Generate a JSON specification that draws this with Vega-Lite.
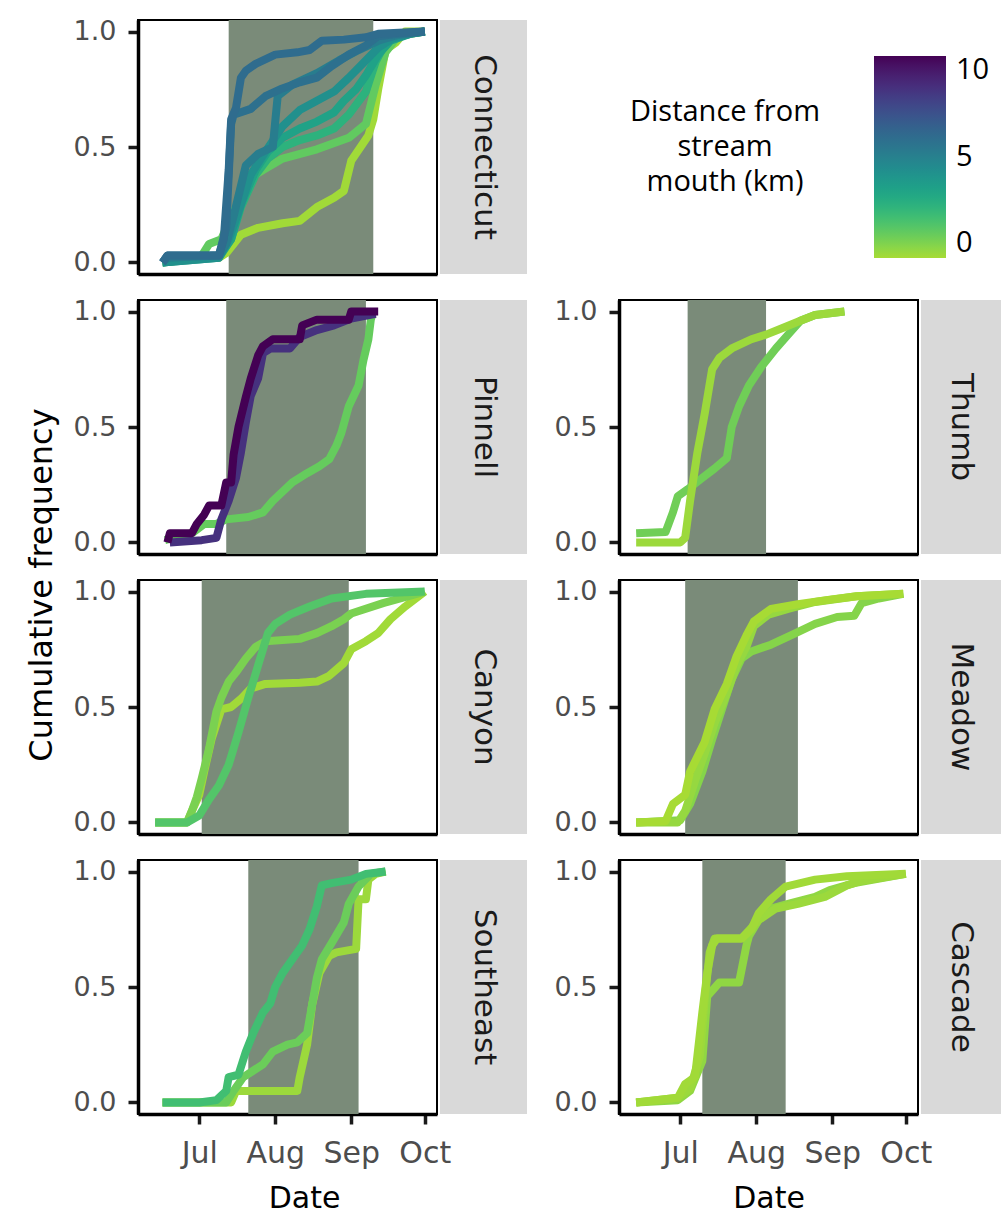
{
"$schema": "https://vega.github.io/schema/vega-lite/v6.json",
"background": "white",
"padding": {"left": 26, "top": 16, "right": 0, "bottom": 0},
"config": {
  "font": "DejaVu Sans",
  "view": {"stroke": "black", "strokeWidth": 2},
  "axis": {"grid": false, "domainColor": "black", "domainWidth": 3.5, "tickColor": "#1a1a1a", "tickWidth": 3.5, "tickSize": 10, "labelColor": "#4d4d4d", "labelFont": "DejaVu Sans", "titleFont": "DejaVu Sans", "titleFontWeight": "normal", "titleColor": "black", "titleFontSize": 30},
  "axisY": {"labelFontSize": 27, "labelPadding": 12},
  "axisX": {"labelFontSize": 30, "labelPadding": 14, "titlePadding": 15}
},
"datasets": {
  "shade": [
    {"s": "Connecticut", "a": "2018-07-13", "b": "2018-09-10"},
    {"s": "Pinnell", "a": "2018-07-12", "b": "2018-09-07"},
    {"s": "Canyon", "a": "2018-07-02", "b": "2018-08-31"},
    {"s": "Southeast", "a": "2018-07-21", "b": "2018-09-04"},
    {"s": "Thumb", "a": "2018-07-04", "b": "2018-08-05"},
    {"s": "Meadow", "a": "2018-07-03", "b": "2018-08-18"},
    {"s": "Cascade", "a": "2018-07-10", "b": "2018-08-13"}
  ],
  "lines": [
    {"s":"Connecticut","id":"C8","d":0.1,"t":"2018-06-16","v":0},
    {"s":"Connecticut","id":"C8","d":0.1,"t":"2018-07-02","v":0.02},
    {"s":"Connecticut","id":"C8","d":0.1,"t":"2018-07-09","v":0.02},
    {"s":"Connecticut","id":"C8","d":0.1,"t":"2018-07-12","v":0.04},
    {"s":"Connecticut","id":"C8","d":0.1,"t":"2018-07-18","v":0.12},
    {"s":"Connecticut","id":"C8","d":0.1,"t":"2018-07-25","v":0.15},
    {"s":"Connecticut","id":"C8","d":0.1,"t":"2018-08-04","v":0.17},
    {"s":"Connecticut","id":"C8","d":0.1,"t":"2018-08-11","v":0.18},
    {"s":"Connecticut","id":"C8","d":0.1,"t":"2018-08-18","v":0.24},
    {"s":"Connecticut","id":"C8","d":0.1,"t":"2018-08-25","v":0.28},
    {"s":"Connecticut","id":"C8","d":0.1,"t":"2018-08-29","v":0.31},
    {"s":"Connecticut","id":"C8","d":0.1,"t":"2018-09-01","v":0.44},
    {"s":"Connecticut","id":"C8","d":0.1,"t":"2018-09-08","v":0.55},
    {"s":"Connecticut","id":"C8","d":0.1,"t":"2018-09-10","v":0.62},
    {"s":"Connecticut","id":"C8","d":0.1,"t":"2018-09-12","v":0.75},
    {"s":"Connecticut","id":"C8","d":0.1,"t":"2018-09-15","v":0.92},
    {"s":"Connecticut","id":"C8","d":0.1,"t":"2018-09-19","v":0.95},
    {"s":"Connecticut","id":"C8","d":0.1,"t":"2018-09-23","v":1},
    {"s":"Connecticut","id":"C8","d":0.1,"t":"2018-10-01","v":1},
    {"s":"Connecticut","id":"C7","d":1.3,"t":"2018-06-16","v":0},
    {"s":"Connecticut","id":"C7","d":1.3,"t":"2018-07-02","v":0.03},
    {"s":"Connecticut","id":"C7","d":1.3,"t":"2018-07-05","v":0.08},
    {"s":"Connecticut","id":"C7","d":1.3,"t":"2018-07-10","v":0.1},
    {"s":"Connecticut","id":"C7","d":1.3,"t":"2018-07-14","v":0.2},
    {"s":"Connecticut","id":"C7","d":1.3,"t":"2018-07-19","v":0.3},
    {"s":"Connecticut","id":"C7","d":1.3,"t":"2018-07-24","v":0.38},
    {"s":"Connecticut","id":"C7","d":1.3,"t":"2018-07-27","v":0.4},
    {"s":"Connecticut","id":"C7","d":1.3,"t":"2018-08-04","v":0.45},
    {"s":"Connecticut","id":"C7","d":1.3,"t":"2018-08-18","v":0.49},
    {"s":"Connecticut","id":"C7","d":1.3,"t":"2018-08-31","v":0.54},
    {"s":"Connecticut","id":"C7","d":1.3,"t":"2018-09-07","v":0.6},
    {"s":"Connecticut","id":"C7","d":1.3,"t":"2018-09-11","v":0.77},
    {"s":"Connecticut","id":"C7","d":1.3,"t":"2018-09-15","v":0.91},
    {"s":"Connecticut","id":"C7","d":1.3,"t":"2018-09-20","v":0.98},
    {"s":"Connecticut","id":"C7","d":1.3,"t":"2018-10-01","v":1},
    {"s":"Connecticut","id":"C6","d":2.6,"t":"2018-06-16","v":0},
    {"s":"Connecticut","id":"C6","d":2.6,"t":"2018-07-02","v":0.02},
    {"s":"Connecticut","id":"C6","d":2.6,"t":"2018-07-09","v":0.03},
    {"s":"Connecticut","id":"C6","d":2.6,"t":"2018-07-14","v":0.1},
    {"s":"Connecticut","id":"C6","d":2.6,"t":"2018-07-18","v":0.24},
    {"s":"Connecticut","id":"C6","d":2.6,"t":"2018-07-24","v":0.38},
    {"s":"Connecticut","id":"C6","d":2.6,"t":"2018-07-29","v":0.45},
    {"s":"Connecticut","id":"C6","d":2.6,"t":"2018-08-04","v":0.5},
    {"s":"Connecticut","id":"C6","d":2.6,"t":"2018-08-11","v":0.53},
    {"s":"Connecticut","id":"C6","d":2.6,"t":"2018-08-18","v":0.55},
    {"s":"Connecticut","id":"C6","d":2.6,"t":"2018-08-25","v":0.58},
    {"s":"Connecticut","id":"C6","d":2.6,"t":"2018-08-31","v":0.64},
    {"s":"Connecticut","id":"C6","d":2.6,"t":"2018-09-07","v":0.74},
    {"s":"Connecticut","id":"C6","d":2.6,"t":"2018-09-11","v":0.87},
    {"s":"Connecticut","id":"C6","d":2.6,"t":"2018-09-15","v":0.95},
    {"s":"Connecticut","id":"C6","d":2.6,"t":"2018-09-22","v":0.99},
    {"s":"Connecticut","id":"C6","d":2.6,"t":"2018-10-01","v":1},
    {"s":"Connecticut","id":"C5","d":3.4,"t":"2018-06-16","v":0},
    {"s":"Connecticut","id":"C5","d":3.4,"t":"2018-07-09","v":0.02},
    {"s":"Connecticut","id":"C5","d":3.4,"t":"2018-07-14","v":0.1},
    {"s":"Connecticut","id":"C5","d":3.4,"t":"2018-07-18","v":0.25},
    {"s":"Connecticut","id":"C5","d":3.4,"t":"2018-07-24","v":0.4},
    {"s":"Connecticut","id":"C5","d":3.4,"t":"2018-07-29","v":0.48},
    {"s":"Connecticut","id":"C5","d":3.4,"t":"2018-08-04","v":0.54},
    {"s":"Connecticut","id":"C5","d":3.4,"t":"2018-08-11","v":0.58},
    {"s":"Connecticut","id":"C5","d":3.4,"t":"2018-08-18","v":0.61},
    {"s":"Connecticut","id":"C5","d":3.4,"t":"2018-08-25","v":0.65},
    {"s":"Connecticut","id":"C5","d":3.4,"t":"2018-08-29","v":0.7},
    {"s":"Connecticut","id":"C5","d":3.4,"t":"2018-09-03","v":0.75},
    {"s":"Connecticut","id":"C5","d":3.4,"t":"2018-09-07","v":0.81},
    {"s":"Connecticut","id":"C5","d":3.4,"t":"2018-09-12","v":0.9},
    {"s":"Connecticut","id":"C5","d":3.4,"t":"2018-09-17","v":0.96},
    {"s":"Connecticut","id":"C5","d":3.4,"t":"2018-09-25","v":0.99},
    {"s":"Connecticut","id":"C5","d":3.4,"t":"2018-10-01","v":1},
    {"s":"Connecticut","id":"C4","d":4.3,"t":"2018-06-16","v":0},
    {"s":"Connecticut","id":"C4","d":4.3,"t":"2018-07-09","v":0.02},
    {"s":"Connecticut","id":"C4","d":4.3,"t":"2018-07-13","v":0.1},
    {"s":"Connecticut","id":"C4","d":4.3,"t":"2018-07-17","v":0.22},
    {"s":"Connecticut","id":"C4","d":4.3,"t":"2018-07-22","v":0.38},
    {"s":"Connecticut","id":"C4","d":4.3,"t":"2018-07-28","v":0.48},
    {"s":"Connecticut","id":"C4","d":4.3,"t":"2018-08-04","v":0.59},
    {"s":"Connecticut","id":"C4","d":4.3,"t":"2018-08-11","v":0.66},
    {"s":"Connecticut","id":"C4","d":4.3,"t":"2018-08-18","v":0.7},
    {"s":"Connecticut","id":"C4","d":4.3,"t":"2018-08-25","v":0.74},
    {"s":"Connecticut","id":"C4","d":4.3,"t":"2018-08-31","v":0.8},
    {"s":"Connecticut","id":"C4","d":4.3,"t":"2018-09-07","v":0.875},
    {"s":"Connecticut","id":"C4","d":4.3,"t":"2018-09-12","v":0.93},
    {"s":"Connecticut","id":"C4","d":4.3,"t":"2018-09-18","v":0.97},
    {"s":"Connecticut","id":"C4","d":4.3,"t":"2018-09-25","v":0.99},
    {"s":"Connecticut","id":"C4","d":4.3,"t":"2018-10-01","v":1},
    {"s":"Connecticut","id":"C3","d":5.2,"t":"2018-06-16","v":0},
    {"s":"Connecticut","id":"C3","d":5.2,"t":"2018-06-18","v":0.02},
    {"s":"Connecticut","id":"C3","d":5.2,"t":"2018-07-09","v":0.03},
    {"s":"Connecticut","id":"C3","d":5.2,"t":"2018-07-12","v":0.08},
    {"s":"Connecticut","id":"C3","d":5.2,"t":"2018-07-15","v":0.2},
    {"s":"Connecticut","id":"C3","d":5.2,"t":"2018-07-20","v":0.42},
    {"s":"Connecticut","id":"C3","d":5.2,"t":"2018-07-25","v":0.47},
    {"s":"Connecticut","id":"C3","d":5.2,"t":"2018-07-31","v":0.5},
    {"s":"Connecticut","id":"C3","d":5.2,"t":"2018-08-02","v":0.72},
    {"s":"Connecticut","id":"C3","d":5.2,"t":"2018-08-08","v":0.77},
    {"s":"Connecticut","id":"C3","d":5.2,"t":"2018-08-18","v":0.82},
    {"s":"Connecticut","id":"C3","d":5.2,"t":"2018-08-27","v":0.875},
    {"s":"Connecticut","id":"C3","d":5.2,"t":"2018-09-04","v":0.92},
    {"s":"Connecticut","id":"C3","d":5.2,"t":"2018-09-12","v":0.96},
    {"s":"Connecticut","id":"C3","d":5.2,"t":"2018-09-20","v":0.985},
    {"s":"Connecticut","id":"C3","d":5.2,"t":"2018-10-01","v":1},
    {"s":"Connecticut","id":"C2","d":5.8,"t":"2018-06-16","v":0},
    {"s":"Connecticut","id":"C2","d":5.8,"t":"2018-06-18","v":0.03},
    {"s":"Connecticut","id":"C2","d":5.8,"t":"2018-07-09","v":0.03},
    {"s":"Connecticut","id":"C2","d":5.8,"t":"2018-07-12","v":0.15},
    {"s":"Connecticut","id":"C2","d":5.8,"t":"2018-07-14","v":0.6},
    {"s":"Connecticut","id":"C2","d":5.8,"t":"2018-07-15","v":0.64},
    {"s":"Connecticut","id":"C2","d":5.8,"t":"2018-07-22","v":0.665},
    {"s":"Connecticut","id":"C2","d":5.8,"t":"2018-07-28","v":0.72},
    {"s":"Connecticut","id":"C2","d":5.8,"t":"2018-08-03","v":0.75},
    {"s":"Connecticut","id":"C2","d":5.8,"t":"2018-08-11","v":0.78},
    {"s":"Connecticut","id":"C2","d":5.8,"t":"2018-08-18","v":0.8},
    {"s":"Connecticut","id":"C2","d":5.8,"t":"2018-08-24","v":0.85},
    {"s":"Connecticut","id":"C2","d":5.8,"t":"2018-08-31","v":0.9},
    {"s":"Connecticut","id":"C2","d":5.8,"t":"2018-09-07","v":0.94},
    {"s":"Connecticut","id":"C2","d":5.8,"t":"2018-09-12","v":0.98},
    {"s":"Connecticut","id":"C2","d":5.8,"t":"2018-09-20","v":0.99},
    {"s":"Connecticut","id":"C2","d":5.8,"t":"2018-10-01","v":1},
    {"s":"Connecticut","id":"C1","d":6.0,"t":"2018-06-16","v":0},
    {"s":"Connecticut","id":"C1","d":6.0,"t":"2018-06-18","v":0.03},
    {"s":"Connecticut","id":"C1","d":6.0,"t":"2018-07-09","v":0.03},
    {"s":"Connecticut","id":"C1","d":6.0,"t":"2018-07-11","v":0.1},
    {"s":"Connecticut","id":"C1","d":6.0,"t":"2018-07-13","v":0.4},
    {"s":"Connecticut","id":"C1","d":6.0,"t":"2018-07-14","v":0.62},
    {"s":"Connecticut","id":"C1","d":6.0,"t":"2018-07-16","v":0.67},
    {"s":"Connecticut","id":"C1","d":6.0,"t":"2018-07-18","v":0.8},
    {"s":"Connecticut","id":"C1","d":6.0,"t":"2018-07-20","v":0.83},
    {"s":"Connecticut","id":"C1","d":6.0,"t":"2018-07-24","v":0.86},
    {"s":"Connecticut","id":"C1","d":6.0,"t":"2018-08-01","v":0.9},
    {"s":"Connecticut","id":"C1","d":6.0,"t":"2018-08-10","v":0.91},
    {"s":"Connecticut","id":"C1","d":6.0,"t":"2018-08-15","v":0.92},
    {"s":"Connecticut","id":"C1","d":6.0,"t":"2018-08-20","v":0.96},
    {"s":"Connecticut","id":"C1","d":6.0,"t":"2018-08-29","v":0.965},
    {"s":"Connecticut","id":"C1","d":6.0,"t":"2018-09-07","v":0.975},
    {"s":"Connecticut","id":"C1","d":6.0,"t":"2018-09-12","v":0.99},
    {"s":"Connecticut","id":"C1","d":6.0,"t":"2018-10-01","v":1},
    {"s":"Pinnell","id":"P3","d":1.2,"t":"2018-06-17","v":0.01},
    {"s":"Pinnell","id":"P3","d":1.2,"t":"2018-06-28","v":0.04},
    {"s":"Pinnell","id":"P3","d":1.2,"t":"2018-07-03","v":0.08},
    {"s":"Pinnell","id":"P3","d":1.2,"t":"2018-07-08","v":0.08},
    {"s":"Pinnell","id":"P3","d":1.2,"t":"2018-07-12","v":0.1},
    {"s":"Pinnell","id":"P3","d":1.2,"t":"2018-07-21","v":0.11},
    {"s":"Pinnell","id":"P3","d":1.2,"t":"2018-07-27","v":0.13},
    {"s":"Pinnell","id":"P3","d":1.2,"t":"2018-07-31","v":0.18},
    {"s":"Pinnell","id":"P3","d":1.2,"t":"2018-08-04","v":0.22},
    {"s":"Pinnell","id":"P3","d":1.2,"t":"2018-08-08","v":0.26},
    {"s":"Pinnell","id":"P3","d":1.2,"t":"2018-08-14","v":0.3},
    {"s":"Pinnell","id":"P3","d":1.2,"t":"2018-08-19","v":0.33},
    {"s":"Pinnell","id":"P3","d":1.2,"t":"2018-08-23","v":0.36},
    {"s":"Pinnell","id":"P3","d":1.2,"t":"2018-08-26","v":0.42},
    {"s":"Pinnell","id":"P3","d":1.2,"t":"2018-08-28","v":0.475},
    {"s":"Pinnell","id":"P3","d":1.2,"t":"2018-08-31","v":0.59},
    {"s":"Pinnell","id":"P3","d":1.2,"t":"2018-09-04","v":0.68},
    {"s":"Pinnell","id":"P3","d":1.2,"t":"2018-09-06","v":0.79},
    {"s":"Pinnell","id":"P3","d":1.2,"t":"2018-09-08","v":0.88},
    {"s":"Pinnell","id":"P3","d":1.2,"t":"2018-09-09","v":0.965},
    {"s":"Pinnell","id":"P3","d":1.2,"t":"2018-09-10","v":1},
    {"s":"Pinnell","id":"P2","d":8.4,"t":"2018-06-19","v":0},
    {"s":"Pinnell","id":"P2","d":8.4,"t":"2018-07-02","v":0.01},
    {"s":"Pinnell","id":"P2","d":8.4,"t":"2018-07-08","v":0.02},
    {"s":"Pinnell","id":"P2","d":8.4,"t":"2018-07-10","v":0.1},
    {"s":"Pinnell","id":"P2","d":8.4,"t":"2018-07-13","v":0.18},
    {"s":"Pinnell","id":"P2","d":8.4,"t":"2018-07-16","v":0.28},
    {"s":"Pinnell","id":"P2","d":8.4,"t":"2018-07-18","v":0.39},
    {"s":"Pinnell","id":"P2","d":8.4,"t":"2018-07-20","v":0.52},
    {"s":"Pinnell","id":"P2","d":8.4,"t":"2018-07-22","v":0.635},
    {"s":"Pinnell","id":"P2","d":8.4,"t":"2018-07-25","v":0.71},
    {"s":"Pinnell","id":"P2","d":8.4,"t":"2018-07-27","v":0.82},
    {"s":"Pinnell","id":"P2","d":8.4,"t":"2018-07-30","v":0.84},
    {"s":"Pinnell","id":"P2","d":8.4,"t":"2018-08-07","v":0.84},
    {"s":"Pinnell","id":"P2","d":8.4,"t":"2018-08-11","v":0.89},
    {"s":"Pinnell","id":"P2","d":8.4,"t":"2018-08-18","v":0.92},
    {"s":"Pinnell","id":"P2","d":8.4,"t":"2018-08-25","v":0.94},
    {"s":"Pinnell","id":"P2","d":8.4,"t":"2018-09-01","v":0.97},
    {"s":"Pinnell","id":"P2","d":8.4,"t":"2018-09-11","v":0.99},
    {"s":"Pinnell","id":"P1","d":10,"t":"2018-06-18","v":0},
    {"s":"Pinnell","id":"P1","d":10,"t":"2018-06-19","v":0.04},
    {"s":"Pinnell","id":"P1","d":10,"t":"2018-06-28","v":0.04},
    {"s":"Pinnell","id":"P1","d":10,"t":"2018-06-30","v":0.08},
    {"s":"Pinnell","id":"P1","d":10,"t":"2018-07-03","v":0.12},
    {"s":"Pinnell","id":"P1","d":10,"t":"2018-07-05","v":0.16},
    {"s":"Pinnell","id":"P1","d":10,"t":"2018-07-10","v":0.16},
    {"s":"Pinnell","id":"P1","d":10,"t":"2018-07-12","v":0.26},
    {"s":"Pinnell","id":"P1","d":10,"t":"2018-07-14","v":0.26},
    {"s":"Pinnell","id":"P1","d":10,"t":"2018-07-15","v":0.38},
    {"s":"Pinnell","id":"P1","d":10,"t":"2018-07-17","v":0.5},
    {"s":"Pinnell","id":"P1","d":10,"t":"2018-07-20","v":0.63},
    {"s":"Pinnell","id":"P1","d":10,"t":"2018-07-22","v":0.71},
    {"s":"Pinnell","id":"P1","d":10,"t":"2018-07-25","v":0.81},
    {"s":"Pinnell","id":"P1","d":10,"t":"2018-07-27","v":0.85},
    {"s":"Pinnell","id":"P1","d":10,"t":"2018-07-31","v":0.88},
    {"s":"Pinnell","id":"P1","d":10,"t":"2018-08-11","v":0.88},
    {"s":"Pinnell","id":"P1","d":10,"t":"2018-08-12","v":0.94},
    {"s":"Pinnell","id":"P1","d":10,"t":"2018-08-18","v":0.965},
    {"s":"Pinnell","id":"P1","d":10,"t":"2018-08-31","v":0.965},
    {"s":"Pinnell","id":"P1","d":10,"t":"2018-09-01","v":1},
    {"s":"Pinnell","id":"P1","d":10,"t":"2018-09-12","v":1},
    {"s":"Canyon","id":"K3","d":0.1,"t":"2018-06-13","v":0},
    {"s":"Canyon","id":"K3","d":0.1,"t":"2018-06-26","v":0},
    {"s":"Canyon","id":"K3","d":0.1,"t":"2018-06-28","v":0.05},
    {"s":"Canyon","id":"K3","d":0.1,"t":"2018-07-01","v":0.12},
    {"s":"Canyon","id":"K3","d":0.1,"t":"2018-07-03","v":0.22},
    {"s":"Canyon","id":"K3","d":0.1,"t":"2018-07-06","v":0.36},
    {"s":"Canyon","id":"K3","d":0.1,"t":"2018-07-10","v":0.49},
    {"s":"Canyon","id":"K3","d":0.1,"t":"2018-07-14","v":0.5},
    {"s":"Canyon","id":"K3","d":0.1,"t":"2018-07-18","v":0.535},
    {"s":"Canyon","id":"K3","d":0.1,"t":"2018-07-22","v":0.58},
    {"s":"Canyon","id":"K3","d":0.1,"t":"2018-07-28","v":0.6},
    {"s":"Canyon","id":"K3","d":0.1,"t":"2018-08-11","v":0.605},
    {"s":"Canyon","id":"K3","d":0.1,"t":"2018-08-18","v":0.61},
    {"s":"Canyon","id":"K3","d":0.1,"t":"2018-08-23","v":0.635},
    {"s":"Canyon","id":"K3","d":0.1,"t":"2018-08-29","v":0.69},
    {"s":"Canyon","id":"K3","d":0.1,"t":"2018-09-01","v":0.75},
    {"s":"Canyon","id":"K3","d":0.1,"t":"2018-09-07","v":0.785},
    {"s":"Canyon","id":"K3","d":0.1,"t":"2018-09-12","v":0.82},
    {"s":"Canyon","id":"K3","d":0.1,"t":"2018-09-17","v":0.88},
    {"s":"Canyon","id":"K3","d":0.1,"t":"2018-09-23","v":0.935},
    {"s":"Canyon","id":"K3","d":0.1,"t":"2018-10-01","v":1},
    {"s":"Canyon","id":"K2","d":0.8,"t":"2018-06-13","v":0},
    {"s":"Canyon","id":"K2","d":0.8,"t":"2018-06-26","v":0},
    {"s":"Canyon","id":"K2","d":0.8,"t":"2018-06-28","v":0.05},
    {"s":"Canyon","id":"K2","d":0.8,"t":"2018-06-30","v":0.11},
    {"s":"Canyon","id":"K2","d":0.8,"t":"2018-07-02","v":0.19},
    {"s":"Canyon","id":"K2","d":0.8,"t":"2018-07-05","v":0.32},
    {"s":"Canyon","id":"K2","d":0.8,"t":"2018-07-08","v":0.48},
    {"s":"Canyon","id":"K2","d":0.8,"t":"2018-07-10","v":0.54},
    {"s":"Canyon","id":"K2","d":0.8,"t":"2018-07-13","v":0.61},
    {"s":"Canyon","id":"K2","d":0.8,"t":"2018-07-16","v":0.65},
    {"s":"Canyon","id":"K2","d":0.8,"t":"2018-07-20","v":0.71},
    {"s":"Canyon","id":"K2","d":0.8,"t":"2018-07-24","v":0.76},
    {"s":"Canyon","id":"K2","d":0.8,"t":"2018-07-28","v":0.785},
    {"s":"Canyon","id":"K2","d":0.8,"t":"2018-08-11","v":0.795},
    {"s":"Canyon","id":"K2","d":0.8,"t":"2018-08-18","v":0.82},
    {"s":"Canyon","id":"K2","d":0.8,"t":"2018-08-24","v":0.85},
    {"s":"Canyon","id":"K2","d":0.8,"t":"2018-08-29","v":0.88},
    {"s":"Canyon","id":"K2","d":0.8,"t":"2018-09-01","v":0.905},
    {"s":"Canyon","id":"K2","d":0.8,"t":"2018-09-14","v":0.95},
    {"s":"Canyon","id":"K2","d":0.8,"t":"2018-10-01","v":1},
    {"s":"Canyon","id":"K1","d":1.6,"t":"2018-06-13","v":0},
    {"s":"Canyon","id":"K1","d":1.6,"t":"2018-06-26","v":0},
    {"s":"Canyon","id":"K1","d":1.6,"t":"2018-07-01","v":0.03},
    {"s":"Canyon","id":"K1","d":1.6,"t":"2018-07-05","v":0.1},
    {"s":"Canyon","id":"K1","d":1.6,"t":"2018-07-09","v":0.16},
    {"s":"Canyon","id":"K1","d":1.6,"t":"2018-07-13","v":0.25},
    {"s":"Canyon","id":"K1","d":1.6,"t":"2018-07-17","v":0.39},
    {"s":"Canyon","id":"K1","d":1.6,"t":"2018-07-21","v":0.54},
    {"s":"Canyon","id":"K1","d":1.6,"t":"2018-07-25","v":0.68},
    {"s":"Canyon","id":"K1","d":1.6,"t":"2018-07-29","v":0.82},
    {"s":"Canyon","id":"K1","d":1.6,"t":"2018-08-01","v":0.86},
    {"s":"Canyon","id":"K1","d":1.6,"t":"2018-08-07","v":0.9},
    {"s":"Canyon","id":"K1","d":1.6,"t":"2018-08-15","v":0.935},
    {"s":"Canyon","id":"K1","d":1.6,"t":"2018-08-24","v":0.97},
    {"s":"Canyon","id":"K1","d":1.6,"t":"2018-09-07","v":0.99},
    {"s":"Canyon","id":"K1","d":1.6,"t":"2018-10-01","v":1},
    {"s":"Southeast","id":"S3","d":0.2,"t":"2018-06-16","v":0},
    {"s":"Southeast","id":"S3","d":0.2,"t":"2018-07-14","v":0},
    {"s":"Southeast","id":"S3","d":0.2,"t":"2018-07-16","v":0.05},
    {"s":"Southeast","id":"S3","d":0.2,"t":"2018-08-10","v":0.05},
    {"s":"Southeast","id":"S3","d":0.2,"t":"2018-08-11","v":0.11},
    {"s":"Southeast","id":"S3","d":0.2,"t":"2018-08-14","v":0.25},
    {"s":"Southeast","id":"S3","d":0.2,"t":"2018-08-16","v":0.42},
    {"s":"Southeast","id":"S3","d":0.2,"t":"2018-08-19","v":0.56},
    {"s":"Southeast","id":"S3","d":0.2,"t":"2018-08-23","v":0.635},
    {"s":"Southeast","id":"S3","d":0.2,"t":"2018-08-26","v":0.65},
    {"s":"Southeast","id":"S3","d":0.2,"t":"2018-09-03","v":0.665},
    {"s":"Southeast","id":"S3","d":0.2,"t":"2018-09-04","v":0.88},
    {"s":"Southeast","id":"S3","d":0.2,"t":"2018-09-07","v":0.88},
    {"s":"Southeast","id":"S3","d":0.2,"t":"2018-09-08","v":0.965},
    {"s":"Southeast","id":"S3","d":0.2,"t":"2018-09-11","v":0.99},
    {"s":"Southeast","id":"S3","d":0.2,"t":"2018-09-15","v":1},
    {"s":"Southeast","id":"S2","d":1.1,"t":"2018-06-16","v":0},
    {"s":"Southeast","id":"S2","d":1.1,"t":"2018-07-12","v":0},
    {"s":"Southeast","id":"S2","d":1.1,"t":"2018-07-15","v":0.05},
    {"s":"Southeast","id":"S2","d":1.1,"t":"2018-07-19","v":0.11},
    {"s":"Southeast","id":"S2","d":1.1,"t":"2018-07-27","v":0.165},
    {"s":"Southeast","id":"S2","d":1.1,"t":"2018-07-31","v":0.22},
    {"s":"Southeast","id":"S2","d":1.1,"t":"2018-08-06","v":0.25},
    {"s":"Southeast","id":"S2","d":1.1,"t":"2018-08-10","v":0.26},
    {"s":"Southeast","id":"S2","d":1.1,"t":"2018-08-14","v":0.3},
    {"s":"Southeast","id":"S2","d":1.1,"t":"2018-08-18","v":0.54},
    {"s":"Southeast","id":"S2","d":1.1,"t":"2018-08-20","v":0.62},
    {"s":"Southeast","id":"S2","d":1.1,"t":"2018-08-24","v":0.69},
    {"s":"Southeast","id":"S2","d":1.1,"t":"2018-08-29","v":0.78},
    {"s":"Southeast","id":"S2","d":1.1,"t":"2018-08-31","v":0.86},
    {"s":"Southeast","id":"S2","d":1.1,"t":"2018-09-04","v":0.935},
    {"s":"Southeast","id":"S2","d":1.1,"t":"2018-09-09","v":0.99},
    {"s":"Southeast","id":"S2","d":1.1,"t":"2018-09-15","v":1},
    {"s":"Southeast","id":"S1","d":2.0,"t":"2018-06-16","v":0},
    {"s":"Southeast","id":"S1","d":2.0,"t":"2018-07-01","v":0},
    {"s":"Southeast","id":"S1","d":2.0,"t":"2018-07-08","v":0.01},
    {"s":"Southeast","id":"S1","d":2.0,"t":"2018-07-12","v":0.05},
    {"s":"Southeast","id":"S1","d":2.0,"t":"2018-07-13","v":0.11},
    {"s":"Southeast","id":"S1","d":2.0,"t":"2018-07-17","v":0.12},
    {"s":"Southeast","id":"S1","d":2.0,"t":"2018-07-20","v":0.22},
    {"s":"Southeast","id":"S1","d":2.0,"t":"2018-07-23","v":0.3},
    {"s":"Southeast","id":"S1","d":2.0,"t":"2018-07-27","v":0.39},
    {"s":"Southeast","id":"S1","d":2.0,"t":"2018-07-30","v":0.43},
    {"s":"Southeast","id":"S1","d":2.0,"t":"2018-08-01","v":0.5},
    {"s":"Southeast","id":"S1","d":2.0,"t":"2018-08-04","v":0.56},
    {"s":"Southeast","id":"S1","d":2.0,"t":"2018-08-08","v":0.62},
    {"s":"Southeast","id":"S1","d":2.0,"t":"2018-08-12","v":0.68},
    {"s":"Southeast","id":"S1","d":2.0,"t":"2018-08-15","v":0.75},
    {"s":"Southeast","id":"S1","d":2.0,"t":"2018-08-18","v":0.85},
    {"s":"Southeast","id":"S1","d":2.0,"t":"2018-08-20","v":0.94},
    {"s":"Southeast","id":"S1","d":2.0,"t":"2018-08-24","v":0.95},
    {"s":"Southeast","id":"S1","d":2.0,"t":"2018-09-01","v":0.965},
    {"s":"Southeast","id":"S1","d":2.0,"t":"2018-09-07","v":0.99},
    {"s":"Southeast","id":"S1","d":2.0,"t":"2018-09-15","v":1},
    {"s":"Thumb","id":"T1","d":1.0,"t":"2018-06-13","v":0.04},
    {"s":"Thumb","id":"T1","d":1.0,"t":"2018-06-25","v":0.045},
    {"s":"Thumb","id":"T1","d":1.0,"t":"2018-06-28","v":0.13},
    {"s":"Thumb","id":"T1","d":1.0,"t":"2018-06-30","v":0.2},
    {"s":"Thumb","id":"T1","d":1.0,"t":"2018-07-04","v":0.23},
    {"s":"Thumb","id":"T1","d":1.0,"t":"2018-07-10","v":0.28},
    {"s":"Thumb","id":"T1","d":1.0,"t":"2018-07-15","v":0.32},
    {"s":"Thumb","id":"T1","d":1.0,"t":"2018-07-20","v":0.365},
    {"s":"Thumb","id":"T1","d":1.0,"t":"2018-07-22","v":0.5},
    {"s":"Thumb","id":"T1","d":1.0,"t":"2018-07-25","v":0.59},
    {"s":"Thumb","id":"T1","d":1.0,"t":"2018-07-29","v":0.68},
    {"s":"Thumb","id":"T1","d":1.0,"t":"2018-08-03","v":0.76},
    {"s":"Thumb","id":"T1","d":1.0,"t":"2018-08-09","v":0.84},
    {"s":"Thumb","id":"T1","d":1.0,"t":"2018-08-14","v":0.9},
    {"s":"Thumb","id":"T1","d":1.0,"t":"2018-08-19","v":0.96},
    {"s":"Thumb","id":"T1","d":1.0,"t":"2018-08-25","v":0.985},
    {"s":"Thumb","id":"T1","d":1.0,"t":"2018-09-06","v":1},
    {"s":"Thumb","id":"T2","d":0.2,"t":"2018-06-13","v":0},
    {"s":"Thumb","id":"T2","d":0.2,"t":"2018-07-01","v":0},
    {"s":"Thumb","id":"T2","d":0.2,"t":"2018-07-03","v":0.02},
    {"s":"Thumb","id":"T2","d":0.2,"t":"2018-07-05","v":0.18},
    {"s":"Thumb","id":"T2","d":0.2,"t":"2018-07-08","v":0.39},
    {"s":"Thumb","id":"T2","d":0.2,"t":"2018-07-11","v":0.56},
    {"s":"Thumb","id":"T2","d":0.2,"t":"2018-07-14","v":0.75},
    {"s":"Thumb","id":"T2","d":0.2,"t":"2018-07-17","v":0.8},
    {"s":"Thumb","id":"T2","d":0.2,"t":"2018-07-22","v":0.84},
    {"s":"Thumb","id":"T2","d":0.2,"t":"2018-07-30","v":0.88},
    {"s":"Thumb","id":"T2","d":0.2,"t":"2018-08-05","v":0.9},
    {"s":"Thumb","id":"T2","d":0.2,"t":"2018-08-12","v":0.93},
    {"s":"Thumb","id":"T2","d":0.2,"t":"2018-08-19","v":0.96},
    {"s":"Thumb","id":"T2","d":0.2,"t":"2018-08-25","v":0.985},
    {"s":"Thumb","id":"T2","d":0.2,"t":"2018-09-06","v":1},
    {"s":"Meadow","id":"M3","d":0.6,"t":"2018-06-13","v":0},
    {"s":"Meadow","id":"M3","d":0.6,"t":"2018-07-01","v":0.01},
    {"s":"Meadow","id":"M3","d":0.6,"t":"2018-07-05","v":0.08},
    {"s":"Meadow","id":"M3","d":0.6,"t":"2018-07-10","v":0.22},
    {"s":"Meadow","id":"M3","d":0.6,"t":"2018-07-14","v":0.36},
    {"s":"Meadow","id":"M3","d":0.6,"t":"2018-07-18","v":0.49},
    {"s":"Meadow","id":"M3","d":0.6,"t":"2018-07-22","v":0.62},
    {"s":"Meadow","id":"M3","d":0.6,"t":"2018-07-26","v":0.71},
    {"s":"Meadow","id":"M3","d":0.6,"t":"2018-07-30","v":0.74},
    {"s":"Meadow","id":"M3","d":0.6,"t":"2018-08-07","v":0.77},
    {"s":"Meadow","id":"M3","d":0.6,"t":"2018-08-16","v":0.815},
    {"s":"Meadow","id":"M3","d":0.6,"t":"2018-08-25","v":0.86},
    {"s":"Meadow","id":"M3","d":0.6,"t":"2018-09-03","v":0.89},
    {"s":"Meadow","id":"M3","d":0.6,"t":"2018-09-10","v":0.895},
    {"s":"Meadow","id":"M3","d":0.6,"t":"2018-09-13","v":0.95},
    {"s":"Meadow","id":"M3","d":0.6,"t":"2018-09-20","v":0.97},
    {"s":"Meadow","id":"M3","d":0.6,"t":"2018-09-30","v":0.99},
    {"s":"Meadow","id":"M2","d":0.3,"t":"2018-06-13","v":0},
    {"s":"Meadow","id":"M2","d":0.3,"t":"2018-06-30","v":0},
    {"s":"Meadow","id":"M2","d":0.3,"t":"2018-07-03","v":0.05},
    {"s":"Meadow","id":"M2","d":0.3,"t":"2018-07-07","v":0.18},
    {"s":"Meadow","id":"M2","d":0.3,"t":"2018-07-11","v":0.3},
    {"s":"Meadow","id":"M2","d":0.3,"t":"2018-07-15","v":0.43},
    {"s":"Meadow","id":"M2","d":0.3,"t":"2018-07-20","v":0.56},
    {"s":"Meadow","id":"M2","d":0.3,"t":"2018-07-24","v":0.68},
    {"s":"Meadow","id":"M2","d":0.3,"t":"2018-07-28","v":0.76},
    {"s":"Meadow","id":"M2","d":0.3,"t":"2018-07-31","v":0.85},
    {"s":"Meadow","id":"M2","d":0.3,"t":"2018-08-06","v":0.9},
    {"s":"Meadow","id":"M2","d":0.3,"t":"2018-08-14","v":0.925},
    {"s":"Meadow","id":"M2","d":0.3,"t":"2018-08-25","v":0.955},
    {"s":"Meadow","id":"M2","d":0.3,"t":"2018-09-11","v":0.98},
    {"s":"Meadow","id":"M2","d":0.3,"t":"2018-09-30","v":0.99},
    {"s":"Meadow","id":"M1","d":0.0,"t":"2018-06-13","v":0},
    {"s":"Meadow","id":"M1","d":0.0,"t":"2018-06-25","v":0.005},
    {"s":"Meadow","id":"M1","d":0.0,"t":"2018-06-28","v":0.08},
    {"s":"Meadow","id":"M1","d":0.0,"t":"2018-07-03","v":0.12},
    {"s":"Meadow","id":"M1","d":0.0,"t":"2018-07-05","v":0.22},
    {"s":"Meadow","id":"M1","d":0.0,"t":"2018-07-11","v":0.35},
    {"s":"Meadow","id":"M1","d":0.0,"t":"2018-07-15","v":0.49},
    {"s":"Meadow","id":"M1","d":0.0,"t":"2018-07-20","v":0.6},
    {"s":"Meadow","id":"M1","d":0.0,"t":"2018-07-24","v":0.72},
    {"s":"Meadow","id":"M1","d":0.0,"t":"2018-07-28","v":0.81},
    {"s":"Meadow","id":"M1","d":0.0,"t":"2018-07-31","v":0.87},
    {"s":"Meadow","id":"M1","d":0.0,"t":"2018-08-07","v":0.925},
    {"s":"Meadow","id":"M1","d":0.0,"t":"2018-08-18","v":0.945},
    {"s":"Meadow","id":"M1","d":0.0,"t":"2018-08-31","v":0.965},
    {"s":"Meadow","id":"M1","d":0.0,"t":"2018-09-11","v":0.98},
    {"s":"Meadow","id":"M1","d":0.0,"t":"2018-09-30","v":0.99},
    {"s":"Cascade","id":"A2","d":0.4,"t":"2018-06-13","v":0},
    {"s":"Cascade","id":"A2","d":0.4,"t":"2018-06-30","v":0.01},
    {"s":"Cascade","id":"A2","d":0.4,"t":"2018-07-05","v":0.05},
    {"s":"Cascade","id":"A2","d":0.4,"t":"2018-07-10","v":0.18},
    {"s":"Cascade","id":"A2","d":0.4,"t":"2018-07-12","v":0.46},
    {"s":"Cascade","id":"A2","d":0.4,"t":"2018-07-17","v":0.52},
    {"s":"Cascade","id":"A2","d":0.4,"t":"2018-07-25","v":0.52},
    {"s":"Cascade","id":"A2","d":0.4,"t":"2018-07-28","v":0.68},
    {"s":"Cascade","id":"A2","d":0.4,"t":"2018-07-29","v":0.72},
    {"s":"Cascade","id":"A2","d":0.4,"t":"2018-08-02","v":0.79},
    {"s":"Cascade","id":"A2","d":0.4,"t":"2018-08-07","v":0.84},
    {"s":"Cascade","id":"A2","d":0.4,"t":"2018-08-14","v":0.86},
    {"s":"Cascade","id":"A2","d":0.4,"t":"2018-08-25","v":0.89},
    {"s":"Cascade","id":"A2","d":0.4,"t":"2018-08-31","v":0.92},
    {"s":"Cascade","id":"A2","d":0.4,"t":"2018-09-10","v":0.95},
    {"s":"Cascade","id":"A2","d":0.4,"t":"2018-10-01","v":0.99},
    {"s":"Cascade","id":"A3","d":0.2,"t":"2018-06-13","v":0},
    {"s":"Cascade","id":"A3","d":0.2,"t":"2018-06-30","v":0.02},
    {"s":"Cascade","id":"A3","d":0.2,"t":"2018-07-05","v":0.06},
    {"s":"Cascade","id":"A3","d":0.2,"t":"2018-07-09","v":0.2},
    {"s":"Cascade","id":"A3","d":0.2,"t":"2018-07-11","v":0.45},
    {"s":"Cascade","id":"A3","d":0.2,"t":"2018-07-13","v":0.65},
    {"s":"Cascade","id":"A3","d":0.2,"t":"2018-07-15","v":0.71},
    {"s":"Cascade","id":"A3","d":0.2,"t":"2018-07-26","v":0.71},
    {"s":"Cascade","id":"A3","d":0.2,"t":"2018-08-02","v":0.79},
    {"s":"Cascade","id":"A3","d":0.2,"t":"2018-08-09","v":0.84},
    {"s":"Cascade","id":"A3","d":0.2,"t":"2018-08-18","v":0.86},
    {"s":"Cascade","id":"A3","d":0.2,"t":"2018-08-29","v":0.89},
    {"s":"Cascade","id":"A3","d":0.2,"t":"2018-09-07","v":0.94},
    {"s":"Cascade","id":"A3","d":0.2,"t":"2018-09-13","v":0.96},
    {"s":"Cascade","id":"A3","d":0.2,"t":"2018-10-01","v":0.99},
    {"s":"Cascade","id":"A1","d":0.1,"t":"2018-06-13","v":0},
    {"s":"Cascade","id":"A1","d":0.1,"t":"2018-06-30","v":0.02},
    {"s":"Cascade","id":"A1","d":0.1,"t":"2018-07-03","v":0.08},
    {"s":"Cascade","id":"A1","d":0.1,"t":"2018-07-07","v":0.11},
    {"s":"Cascade","id":"A1","d":0.1,"t":"2018-07-10","v":0.39},
    {"s":"Cascade","id":"A1","d":0.1,"t":"2018-07-12","v":0.56},
    {"s":"Cascade","id":"A1","d":0.1,"t":"2018-07-14","v":0.68},
    {"s":"Cascade","id":"A1","d":0.1,"t":"2018-07-16","v":0.71},
    {"s":"Cascade","id":"A1","d":0.1,"t":"2018-07-26","v":0.71},
    {"s":"Cascade","id":"A1","d":0.1,"t":"2018-07-30","v":0.75},
    {"s":"Cascade","id":"A1","d":0.1,"t":"2018-08-02","v":0.82},
    {"s":"Cascade","id":"A1","d":0.1,"t":"2018-08-07","v":0.88},
    {"s":"Cascade","id":"A1","d":0.1,"t":"2018-08-13","v":0.935},
    {"s":"Cascade","id":"A1","d":0.1,"t":"2018-08-25","v":0.965},
    {"s":"Cascade","id":"A1","d":0.1,"t":"2018-09-07","v":0.98},
    {"s":"Cascade","id":"A1","d":0.1,"t":"2018-10-01","v":0.99}
  ]
},
"spacing": 14,
"hconcat": [
  {
    "width": 30, "height": 1130,
    "view": {"stroke": null},
    "data": {"values": [{"label": "Cumulative frequency"}]},
    "mark": {"type": "text", "angle": 270, "fontSize": 32, "font": "DejaVu Sans", "color": "black"},
    "encoding": {"text": {"field": "label", "type": "nominal"}}
  },
  {
    "spacing": 19,
    "vconcat": [
      {
        "spacing": 26,
        "hconcat": [
          {
            "spacing": 3, "bounds": "flush",
            "hconcat": [
              {
                "width": 299, "height": 254,
                "layer": [
                  {"data": {"name": "shade"}, "transform": [{"filter": {"field": "s", "equal": "Connecticut"}}],
                   "mark": {"type": "rect", "color": "#7a8b79"},
                   "encoding": {"x": {"field": "a", "type": "temporal", "scale": {"type": "utc", "domain": [{"year": 2018, "month": 6, "date": 6, "utc": true}, {"year": 2018, "month": 10, "date": 6, "utc": true}]}, "axis": {"labels": false, "ticks": false, "title": null}}, "x2": {"field": "b"}}},
                  {"data": {"name": "lines"}, "transform": [{"filter": {"field": "s", "equal": "Connecticut"}}],
                   "mark": {"type": "line", "strokeWidth": 8, "strokeJoin": "round"},
                   "encoding": {
                     "x": {"field": "t", "type": "temporal"},
                     "y": {"field": "v", "type": "quantitative", "scale": {"domain": [-0.05, 1.05], "nice": false, "zero": false}, "axis": {"values": [0, 0.5, 1], "format": ".1f", "title": null}},
                     "color": {"field": "d", "type": "quantitative", "scale": {"domain": [0, 10], "scheme": {"name": "viridis", "extent": [0.87, 0]}}, "legend": {"title": null, "orient": "none", "legendX": 847, "legendY": 36, "direction": "vertical", "values": [0, 5, 10], "gradientLength": 202, "gradientThickness": 72, "gradientStrokeWidth": 0, "labelFont": "Open Sans", "labelFontSize": 29, "labelColor": "black", "labelOffset": 10, "padding": 0}},
                     "detail": {"field": "id", "type": "nominal"}
                   }}
                ]
              },
              {
                "width": 87, "height": 254,
                "view": {"fill": "#d9d9d9", "stroke": null},
                "data": {"values": [{"s": "Connecticut"}]},
                "mark": {"type": "text", "angle": 90, "fontSize": 31, "font": "DejaVu Sans", "color": "#1a1a1a"},
                "encoding": {"text": {"field": "s", "type": "nominal"}}
              }
            ]
          },
          {
            "width": 344, "height": 254,
            "view": {"stroke": null},
            "data": {"values": [{"label": "Distance from\nstream\nmouth (km)"}]},
            "mark": {"type": "text", "lineBreak": "\n", "font": "Open Sans", "fontSize": 29, "lineHeight": 35, "dy": -35, "color": "black"},
            "encoding": {"text": {"field": "label", "type": "nominal"}}
          }
        ]
      },
      {
        "spacing": 26,
        "hconcat": [
          {
            "spacing": 3, "bounds": "flush",
            "hconcat": [
              {
                "width": 299, "height": 254,
                "layer": [
                  {"data": {"name": "shade"}, "transform": [{"filter": {"field": "s", "equal": "Pinnell"}}],
                   "mark": {"type": "rect", "color": "#7a8b79"},
                   "encoding": {"x": {"field": "a", "type": "temporal", "scale": {"type": "utc", "domain": [{"year": 2018, "month": 6, "date": 6, "utc": true}, {"year": 2018, "month": 10, "date": 6, "utc": true}]}, "axis": {"labels": false, "ticks": false, "title": null}}, "x2": {"field": "b"}}},
                  {"data": {"name": "lines"}, "transform": [{"filter": {"field": "s", "equal": "Pinnell"}}],
                   "mark": {"type": "line", "strokeWidth": 8, "strokeJoin": "round"},
                   "encoding": {
                     "x": {"field": "t", "type": "temporal"},
                     "y": {"field": "v", "type": "quantitative", "scale": {"domain": [-0.05, 1.05], "nice": false, "zero": false}, "axis": {"values": [0, 0.5, 1], "format": ".1f", "title": null}},
                     "color": {"field": "d", "type": "quantitative", "scale": {"domain": [0, 10], "scheme": {"name": "viridis", "extent": [0.87, 0]}}, "legend": {"title": null, "orient": "none", "legendX": 847, "legendY": 36, "direction": "vertical", "values": [0, 5, 10], "gradientLength": 202, "gradientThickness": 72, "gradientStrokeWidth": 0, "labelFont": "Open Sans", "labelFontSize": 29, "labelColor": "black", "labelOffset": 10, "padding": 0}},
                     "detail": {"field": "id", "type": "nominal"}
                   }}
                ]
              },
              {
                "width": 87, "height": 254,
                "view": {"fill": "#d9d9d9", "stroke": null},
                "data": {"values": [{"s": "Pinnell"}]},
                "mark": {"type": "text", "angle": 90, "fontSize": 31, "font": "DejaVu Sans", "color": "#1a1a1a"},
                "encoding": {"text": {"field": "s", "type": "nominal"}}
              }
            ]
          },
          {
            "spacing": 3, "bounds": "flush",
            "hconcat": [
              {
                "width": 299, "height": 254,
                "layer": [
                  {"data": {"name": "shade"}, "transform": [{"filter": {"field": "s", "equal": "Thumb"}}],
                   "mark": {"type": "rect", "color": "#7a8b79"},
                   "encoding": {"x": {"field": "a", "type": "temporal", "scale": {"type": "utc", "domain": [{"year": 2018, "month": 6, "date": 6, "utc": true}, {"year": 2018, "month": 10, "date": 6, "utc": true}]}, "axis": {"labels": false, "ticks": false, "title": null}}, "x2": {"field": "b"}}},
                  {"data": {"name": "lines"}, "transform": [{"filter": {"field": "s", "equal": "Thumb"}}],
                   "mark": {"type": "line", "strokeWidth": 8, "strokeJoin": "round"},
                   "encoding": {
                     "x": {"field": "t", "type": "temporal"},
                     "y": {"field": "v", "type": "quantitative", "scale": {"domain": [-0.05, 1.05], "nice": false, "zero": false}, "axis": {"values": [0, 0.5, 1], "format": ".1f", "title": null}},
                     "color": {"field": "d", "type": "quantitative", "scale": {"domain": [0, 10], "scheme": {"name": "viridis", "extent": [0.87, 0]}}, "legend": {"title": null, "orient": "none", "legendX": 847, "legendY": 36, "direction": "vertical", "values": [0, 5, 10], "gradientLength": 202, "gradientThickness": 72, "gradientStrokeWidth": 0, "labelFont": "Open Sans", "labelFontSize": 29, "labelColor": "black", "labelOffset": 10, "padding": 0}},
                     "detail": {"field": "id", "type": "nominal"}
                   }}
                ]
              },
              {
                "width": 80, "height": 254,
                "view": {"fill": "#d9d9d9", "stroke": null},
                "data": {"values": [{"s": "Thumb"}]},
                "mark": {"type": "text", "angle": 90, "fontSize": 31, "font": "DejaVu Sans", "color": "#1a1a1a"},
                "encoding": {"text": {"field": "s", "type": "nominal"}}
              }
            ]
          }
        ]
      },
      {
        "spacing": 26,
        "hconcat": [
          {
            "spacing": 3, "bounds": "flush",
            "hconcat": [
              {
                "width": 299, "height": 254,
                "layer": [
                  {"data": {"name": "shade"}, "transform": [{"filter": {"field": "s", "equal": "Canyon"}}],
                   "mark": {"type": "rect", "color": "#7a8b79"},
                   "encoding": {"x": {"field": "a", "type": "temporal", "scale": {"type": "utc", "domain": [{"year": 2018, "month": 6, "date": 6, "utc": true}, {"year": 2018, "month": 10, "date": 6, "utc": true}]}, "axis": {"labels": false, "ticks": false, "title": null}}, "x2": {"field": "b"}}},
                  {"data": {"name": "lines"}, "transform": [{"filter": {"field": "s", "equal": "Canyon"}}],
                   "mark": {"type": "line", "strokeWidth": 8, "strokeJoin": "round"},
                   "encoding": {
                     "x": {"field": "t", "type": "temporal"},
                     "y": {"field": "v", "type": "quantitative", "scale": {"domain": [-0.05, 1.05], "nice": false, "zero": false}, "axis": {"values": [0, 0.5, 1], "format": ".1f", "title": null}},
                     "color": {"field": "d", "type": "quantitative", "scale": {"domain": [0, 10], "scheme": {"name": "viridis", "extent": [0.87, 0]}}, "legend": {"title": null, "orient": "none", "legendX": 847, "legendY": 36, "direction": "vertical", "values": [0, 5, 10], "gradientLength": 202, "gradientThickness": 72, "gradientStrokeWidth": 0, "labelFont": "Open Sans", "labelFontSize": 29, "labelColor": "black", "labelOffset": 10, "padding": 0}},
                     "detail": {"field": "id", "type": "nominal"}
                   }}
                ]
              },
              {
                "width": 87, "height": 254,
                "view": {"fill": "#d9d9d9", "stroke": null},
                "data": {"values": [{"s": "Canyon"}]},
                "mark": {"type": "text", "angle": 90, "fontSize": 31, "font": "DejaVu Sans", "color": "#1a1a1a"},
                "encoding": {"text": {"field": "s", "type": "nominal"}}
              }
            ]
          },
          {
            "spacing": 3, "bounds": "flush",
            "hconcat": [
              {
                "width": 299, "height": 254,
                "layer": [
                  {"data": {"name": "shade"}, "transform": [{"filter": {"field": "s", "equal": "Meadow"}}],
                   "mark": {"type": "rect", "color": "#7a8b79"},
                   "encoding": {"x": {"field": "a", "type": "temporal", "scale": {"type": "utc", "domain": [{"year": 2018, "month": 6, "date": 6, "utc": true}, {"year": 2018, "month": 10, "date": 6, "utc": true}]}, "axis": {"labels": false, "ticks": false, "title": null}}, "x2": {"field": "b"}}},
                  {"data": {"name": "lines"}, "transform": [{"filter": {"field": "s", "equal": "Meadow"}}],
                   "mark": {"type": "line", "strokeWidth": 8, "strokeJoin": "round"},
                   "encoding": {
                     "x": {"field": "t", "type": "temporal"},
                     "y": {"field": "v", "type": "quantitative", "scale": {"domain": [-0.05, 1.05], "nice": false, "zero": false}, "axis": {"values": [0, 0.5, 1], "format": ".1f", "title": null}},
                     "color": {"field": "d", "type": "quantitative", "scale": {"domain": [0, 10], "scheme": {"name": "viridis", "extent": [0.87, 0]}}, "legend": {"title": null, "orient": "none", "legendX": 847, "legendY": 36, "direction": "vertical", "values": [0, 5, 10], "gradientLength": 202, "gradientThickness": 72, "gradientStrokeWidth": 0, "labelFont": "Open Sans", "labelFontSize": 29, "labelColor": "black", "labelOffset": 10, "padding": 0}},
                     "detail": {"field": "id", "type": "nominal"}
                   }}
                ]
              },
              {
                "width": 80, "height": 254,
                "view": {"fill": "#d9d9d9", "stroke": null},
                "data": {"values": [{"s": "Meadow"}]},
                "mark": {"type": "text", "angle": 90, "fontSize": 31, "font": "DejaVu Sans", "color": "#1a1a1a"},
                "encoding": {"text": {"field": "s", "type": "nominal"}}
              }
            ]
          }
        ]
      },
      {
        "spacing": 26,
        "hconcat": [
          {
            "spacing": 3, "bounds": "flush",
            "hconcat": [
              {
                "width": 299, "height": 254,
                "layer": [
                  {"data": {"name": "shade"}, "transform": [{"filter": {"field": "s", "equal": "Southeast"}}],
                   "mark": {"type": "rect", "color": "#7a8b79"},
                   "encoding": {"x": {"field": "a", "type": "temporal", "scale": {"type": "utc", "domain": [{"year": 2018, "month": 6, "date": 6, "utc": true}, {"year": 2018, "month": 10, "date": 6, "utc": true}]}, "axis": {"values": [{"year": 2018, "month": 7, "date": 1, "utc": true}, {"year": 2018, "month": 8, "date": 1, "utc": true}, {"year": 2018, "month": 9, "date": 1, "utc": true}, {"year": 2018, "month": 10, "date": 1, "utc": true}], "format": "%b", "title": "Date", "titleX": 166}}, "x2": {"field": "b"}}},
                  {"data": {"name": "lines"}, "transform": [{"filter": {"field": "s", "equal": "Southeast"}}],
                   "mark": {"type": "line", "strokeWidth": 8, "strokeJoin": "round"},
                   "encoding": {
                     "x": {"field": "t", "type": "temporal"},
                     "y": {"field": "v", "type": "quantitative", "scale": {"domain": [-0.05, 1.05], "nice": false, "zero": false}, "axis": {"values": [0, 0.5, 1], "format": ".1f", "title": null}},
                     "color": {"field": "d", "type": "quantitative", "scale": {"domain": [0, 10], "scheme": {"name": "viridis", "extent": [0.87, 0]}}, "legend": {"title": null, "orient": "none", "legendX": 847, "legendY": 36, "direction": "vertical", "values": [0, 5, 10], "gradientLength": 202, "gradientThickness": 72, "gradientStrokeWidth": 0, "labelFont": "Open Sans", "labelFontSize": 29, "labelColor": "black", "labelOffset": 10, "padding": 0}},
                     "detail": {"field": "id", "type": "nominal"}
                   }}
                ]
              },
              {
                "width": 87, "height": 254,
                "view": {"fill": "#d9d9d9", "stroke": null},
                "data": {"values": [{"s": "Southeast"}]},
                "mark": {"type": "text", "angle": 90, "fontSize": 31, "font": "DejaVu Sans", "color": "#1a1a1a"},
                "encoding": {"text": {"field": "s", "type": "nominal"}}
              }
            ]
          },
          {
            "spacing": 3, "bounds": "flush",
            "hconcat": [
              {
                "width": 299, "height": 254,
                "layer": [
                  {"data": {"name": "shade"}, "transform": [{"filter": {"field": "s", "equal": "Cascade"}}],
                   "mark": {"type": "rect", "color": "#7a8b79"},
                   "encoding": {"x": {"field": "a", "type": "temporal", "scale": {"type": "utc", "domain": [{"year": 2018, "month": 6, "date": 6, "utc": true}, {"year": 2018, "month": 10, "date": 6, "utc": true}]}, "axis": {"values": [{"year": 2018, "month": 7, "date": 1, "utc": true}, {"year": 2018, "month": 8, "date": 1, "utc": true}, {"year": 2018, "month": 9, "date": 1, "utc": true}, {"year": 2018, "month": 10, "date": 1, "utc": true}], "format": "%b", "title": "Date"}}, "x2": {"field": "b"}}},
                  {"data": {"name": "lines"}, "transform": [{"filter": {"field": "s", "equal": "Cascade"}}],
                   "mark": {"type": "line", "strokeWidth": 8, "strokeJoin": "round"},
                   "encoding": {
                     "x": {"field": "t", "type": "temporal"},
                     "y": {"field": "v", "type": "quantitative", "scale": {"domain": [-0.05, 1.05], "nice": false, "zero": false}, "axis": {"values": [0, 0.5, 1], "format": ".1f", "title": null}},
                     "color": {"field": "d", "type": "quantitative", "scale": {"domain": [0, 10], "scheme": {"name": "viridis", "extent": [0.87, 0]}}, "legend": {"title": null, "orient": "none", "legendX": 847, "legendY": 36, "direction": "vertical", "values": [0, 5, 10], "gradientLength": 202, "gradientThickness": 72, "gradientStrokeWidth": 0, "labelFont": "Open Sans", "labelFontSize": 29, "labelColor": "black", "labelOffset": 10, "padding": 0}},
                     "detail": {"field": "id", "type": "nominal"}
                   }}
                ]
              },
              {
                "width": 80, "height": 254,
                "view": {"fill": "#d9d9d9", "stroke": null},
                "data": {"values": [{"s": "Cascade"}]},
                "mark": {"type": "text", "angle": 90, "fontSize": 31, "font": "DejaVu Sans", "color": "#1a1a1a"},
                "encoding": {"text": {"field": "s", "type": "nominal"}}
              }
            ]
          }
        ]
      }
    ]
  }
]
}
